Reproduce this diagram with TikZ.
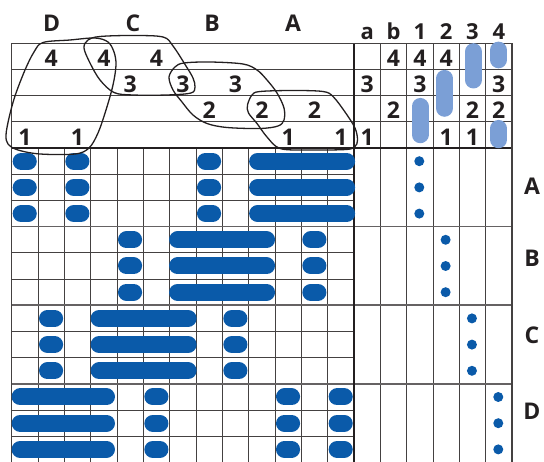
\documentclass[tikz,border=0pt]{standalone}
\usepackage{fontspec}
\setmainfont{Open Sans}
\definecolor{pillblue}{HTML}{0A5AA9}
\definecolor{paleblue}{HTML}{7B9FD6}
\definecolor{ink}{HTML}{231F20}
\begin{document}
\begin{tikzpicture}[x=1pt,y=-1pt,
  num/.style={font=\fontsize{23}{23}\selectfont\bfseries,text=ink,inner sep=0pt},
  collbl/.style={font=\fontsize{22}{22}\selectfont\bfseries,text=ink,inner sep=0pt,anchor=base},
  gridline/.style={draw=ink!85,line width=0.9pt},
  sepline/.style={draw=ink!70,line width=1.6pt},
  heavyline/.style={draw=ink,line width=1.8pt},
  pill/.style={draw=pillblue,line width=17pt,line cap=round},
  palepill/.style={draw=paleblue,line width=17pt,line cap=round},
  loop/.style={draw=ink,line width=1.3pt}]
  \useasboundingbox (0,0) rectangle (544,462);
  \begin{scope}[shift={(11.7,43.3)},x=26.33pt,y=-26.2pt]
    \foreach \r in {1,2,3} \draw[gridline] (0,\r) -- (19,\r);
    \foreach \r in {5,6,8,9,11,12,14,15} \draw[gridline] (0,\r) -- (13,\r);
    \foreach \c in {1,...,12} \draw[gridline] (\c,4) -- (\c,16);
    \foreach \c in {14,...,18} \draw[gridline] (\c,0) -- (\c,16);
    \foreach \r in {7,10,13} \draw[sepline] (0,\r) -- (19,\r);
    \draw[heavyline] (0,4) -- (19,4);
    \draw[heavyline] (13,0) -- (13,16);
    \draw[gridline,line width=1.3pt] (0,0) rectangle (19,16);
    \foreach \c/\t in {13/a,14/b,15/1,16/2,17/3,18/4}
      \node[collbl] (col-\c) at (\c+.5,-.13) {\t};
    \foreach \c/\r/\t in {1/0/4,3/0/4,5/0/4,4/1/3,6/1/3,8/1/3,7/2/2,9/2/2,11/2/2,
        0/3/1,2/3/1,10/3/1,12/3/1,
        14/0/4,15/0/4,16/0/4,13/1/3,15/1/3,18/1/3,14/2/2,17/2/2,18/2/2,13/3/1,16/3/1,17/3/1}
      \node[num] (h-\c-\r) at (\c+.5,\r+.57) {\t};
    \draw[palepill] (17.53,.32) -- (17.53,1.40);
    \draw[palepill] (18.49,.26) -- (18.49,.63);
    \draw[palepill] (16.44,1.34) -- (16.44,2.48);
    \draw[palepill] (15.51,2.41) -- (15.51,3.49);
    \draw[palepill] (18.49,3.25) -- (18.49,3.68);
    \foreach \r in {4,5,6}{
      \foreach \c in {0,2,7} \draw[pill] (\c+.36,\r+.5) -- (\c+.63,\r+.5);
      \draw[pill] (9.34,\r+.5) -- (12.72,\r+.5);
      \fill[pillblue] (15.48,\r+.5) circle (5pt);
    }
    \foreach \r in {7,8,9}{
      \foreach \c in {4,11} \draw[pill] (\c+.36,\r+.5) -- (\c+.63,\r+.5);
      \draw[pill] (6.3,\r+.5) -- (9.68,\r+.5);
      \fill[pillblue] (16.48,\r+.5) circle (5pt);
    }
    \foreach \r in {10,11,12}{
      \foreach \c in {1,8} \draw[pill] (\c+.36,\r+.5) -- (\c+.63,\r+.5);
      \draw[pill] (3.32,\r+.5) -- (6.7,\r+.5);
      \fill[pillblue] (17.48,\r+.5) circle (5pt);
    }
    \foreach \r in {13,14,15}{
      \foreach \c in {5,10,12} \draw[pill] (\c+.36,\r+.5) -- (\c+.63,\r+.5);
      \draw[pill] (.32,\r+.5) -- (3.6,\r+.5);
      \fill[pillblue] (18.48,\r+.5) circle (5pt);
    }
  \end{scope}
  \foreach \x/\t in {51.7/D,133/C,212/B,293/A}
    \node[num,anchor=base] (top-\t) at (\x,31.7) {\t};
  \foreach \y/\t in {195/A,267/B,344/C,420/D}
    \node[num,anchor=base] (side-\t) at (532,\y) {\t};
  \draw[loop] plot[smooth cycle,tension=.55] coordinates {(43,42.5) (70,40) (95,38) (108,42)
    (114,52) (116,65) (113,85) (106,110) (98,133) (89,148) (75,154) (40,154) (18,150)
    (8,144) (6,135) (9,118) (15,96) (25,70) (34,52)};
  \draw[loop] plot[smooth cycle,tension=.55] coordinates {(84,48) (88,40) (100,36.5) (133,35.5)
    (163,37) (173,46) (186,66) (193,78) (195,87) (191,93) (167,95) (133,95) (114,92.5)
    (100,80) (90,63)};
  \draw[loop] plot[smooth cycle,tension=.55] coordinates {(169,77) (175,67) (184,63) (210,62)
    (243,64) (257,70) (267,80) (277,93) (284,108) (284,120) (278,126) (260,128.5)
    (227,127.5) (207,123.5) (193,115) (182,102) (173,90)};
  \draw[loop] plot[smooth cycle,tension=.55] coordinates {(247.5,105) (252,95) (260,91.5)
    (293,90.5) (323,91.5) (333,96.5) (345,112) (355,128) (357.5,140) (355,146.5)
    (346,149.5) (307,150) (280,148.5) (267,137) (257,123.5) (248.5,113)};
\end{tikzpicture}
\end{document}
